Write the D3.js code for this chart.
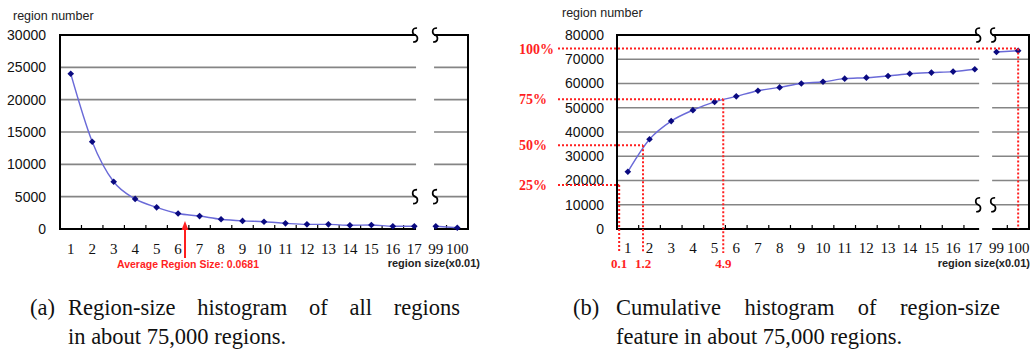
<!DOCTYPE html>
<html>
<head>
<meta charset="utf-8">
<script src="https://cdn.jsdelivr.net/npm/d3@7"></script>
<style>
  body { margin: 0; background: #fff; }
  svg { display: block; }
</style>
</head>
<body>
<script>
// region size categories (x0.01), the axis is broken between 17 and 99
const categories = ["1","2","3","4","5","6","7","8","9","10","11","12","13","14","15","16","17","99","100"];
// (a) number of regions per size
const regionCounts = [24000,13500,7300,4650,3350,2400,2000,1500,1250,1130,880,720,720,570,620,430,420,420,200];
// (b) cumulative number of regions
const cumulativeCounts = [23600,37000,44500,49000,52400,54700,57000,58400,60000,60700,62000,62400,63100,64000,64500,64900,65900,73000,73500];

const countTicks = [0,5000,10000,15000,20000,25000,30000];
const cumulativeTicks = [0,10000,20000,30000,40000,50000,60000,70000,80000];

// percentage markers on (b)
const percentLabels = ["100%","75%","50%","25%"];
const percentCounts = [74400,53500,34500,18100];
const percentSizes = [100,4.9,1.2,0.1];

const averageSizeText = "Average Region Size: 0.0681";
const averageArrowAt = 5.82; // where the arrow sits on the size axis in the original

const captionA = ["(a)", "Region-size histogram of all regions", "in about 75,000 regions."];
const captionB = ["(b)", "Cumulative histogram of region-size", "feature in about 75,000 regions."];

const width = 1035, height = 357;
const sans = "'Liberation Sans', Arial, sans-serif";
const serif = "'Liberation Serif', 'Times New Roman', serif";
const red = "#ff1f1f";

const svg = d3.select("body").append("svg")
    .attr("width", width)
    .attr("height", height);

function drawChart(opt){
    const g = svg.append("g");
    const x = d3.scaleBand().domain(categories).range([opt.left, opt.right]);
    const xu = d3.scaleLinear().domain([0, categories.length]).range([opt.left, opt.right]);
    const y = d3.scaleLinear().domain([0, opt.yMax]).range([opt.bottom, opt.top]);
    const bw = x.bandwidth();

    const breakX = xu(17);
    const gap = [breakX - opt.gap / 2, breakX + opt.gap / 2];
    const spans = [[opt.left, gap[0]], [gap[1], opt.right]];

    // grid lines
    opt.ticks.filter(t => t > 0 && t < opt.yMax).forEach(t => {
        spans.forEach(s => {
            g.append("line")
                .attr("x1", s[0]).attr("x2", s[1])
                .attr("y1", y(t)).attr("y2", y(t))
                .attr("stroke", "#858585").attr("stroke-width", 1.6);
        });
    });

    // frame: top and bottom in two pieces, left and right sides
    [opt.yMax, 0].forEach(t => {
        spans.forEach(s => {
            g.append("line")
                .attr("x1", s[0]).attr("x2", s[1])
                .attr("y1", y(t)).attr("y2", y(t))
                .attr("stroke", "#000").attr("stroke-width", 2);
        });
    });
    [opt.left, opt.right].forEach(px => {
        g.append("line")
            .attr("x1", px).attr("x2", px)
            .attr("y1", y(opt.yMax) - 1).attr("y2", y(0) + 1)
            .attr("stroke", "#000").attr("stroke-width", 2);
    });

    // small ticks between categories
    d3.range(1, categories.length).filter(i => i !== 17).forEach(i => {
        g.append("line")
            .attr("x1", xu(i)).attr("x2", xu(i))
            .attr("y1", y(0)).attr("y2", y(0) - 4)
            .attr("stroke", "#000").attr("stroke-width", 1.2);
    });

    // break marks (S-shaped squiggles)
    const squiggle = (cx, cy) =>
        `M${cx + 2},${cy - 7} C${cx - 4},${cy - 7} ${cx - 3},${cy - 1} ${cx},${cy} ` +
        `C${cx + 3},${cy + 1} ${cx + 4},${cy + 7} ${cx - 2},${cy + 7}`;
    [opt.yMax, opt.breakAt].forEach(t => {
        [gap[0] - 1, gap[1] + 1].forEach(px => {
            g.append("path")
                .attr("d", squiggle(px, y(t)))
                .attr("fill", "none")
                .attr("stroke", "#000").attr("stroke-width", 1.7);
        });
    });

    // y axis labels
    const ya = g.append("g")
        .attr("transform", `translate(${opt.left},0)`)
        .call(d3.axisLeft(y).tickValues(opt.ticks).tickFormat(d3.format("d"))
            .tickSize(0).tickPadding(opt.left - opt.labelRight));
    ya.select(".domain").remove();
    ya.selectAll("text")
        .attr("font-family", sans).attr("font-size", 14).attr("fill", "#111");

    // x axis labels
    const xa = g.append("g")
        .attr("transform", `translate(0,${opt.labelY})`)
        .call(d3.axisBottom(x).tickSize(0));
    xa.select(".domain").remove();
    xa.selectAll("text")
        .attr("y", 0).attr("dy", null)
        .attr("font-family", serif).attr("font-size", 15).attr("fill", "#111");

    // titles
    g.append("text")
        .attr("x", opt.titleX).attr("y", opt.titleY)
        .attr("font-family", sans).attr("font-size", 12.5).attr("fill", "#222")
        .text("region number");
    g.append("text")
        .attr("x", opt.right + opt.sizeLabelShift).attr("y", 267)
        .attr("text-anchor", "end")
        .attr("font-family", sans).attr("font-size", 11).attr("font-weight", "bold").attr("fill", "#222")
        .text("region size(x0.01)");

    // data line and markers
    const pts = opt.values.map((v, i) => ({c: categories[i], v: v}));
    const line = d3.line()
        .x(d => x(d.c) + bw / 2)
        .y(d => y(d.v))
        .curve(d3.curveMonotoneX);
    [pts.slice(0, 17), pts.slice(17)].forEach(seg => {
        g.append("path")
            .datum(seg)
            .attr("d", line)
            .attr("fill", "none")
            .attr("stroke", "#6a6ad8").attr("stroke-width", 1.4);
    });
    g.selectAll(".dot")
        .data(pts)
        .enter().append("path")
        .attr("class", "dot")
        .attr("transform", d => `translate(${x(d.c) + bw / 2},${y(d.v)}) rotate(45)`)
        .attr("d", d3.symbol(d3.symbolSquare, 22))
        .attr("fill", "#0a0a80");

    return {g, x, xu, y};
}

// (a)
const a = drawChart({
    left: 60, right: 468, top: 35, bottom: 229, gap: 18,
    yMax: 30000, ticks: countTicks, breakAt: 5000, values: regionCounts,
    labelRight: 46, labelY: 254, titleX: 13, titleY: 20, sizeLabelShift: 12
});

const ax = a.xu(averageArrowAt);
a.g.append("line")
    .attr("x1", ax).attr("x2", ax)
    .attr("y1", 229).attr("y2", 258)
    .attr("stroke", red).attr("stroke-width", 2);
a.g.append("path")
    .attr("d", `M${ax},221 L${ax - 3.5},230 L${ax + 3.5},230 Z`)
    .attr("fill", red);
a.g.append("text")
    .attr("x", ax + 3).attr("y", 268)
    .attr("text-anchor", "middle")
    .attr("font-family", sans).attr("font-size", 10.5).attr("font-weight", "bold").attr("fill", red)
    .text(averageSizeText);

// (b)
const b = drawChart({
    left: 617, right: 1029, top: 35, bottom: 229, gap: 13,
    yMax: 80000, ticks: cumulativeTicks, breakAt: 10000, values: cumulativeCounts,
    labelRight: 604, labelY: 253, titleX: 562, titleY: 17, sizeLabelShift: 1
});

const sizeUnit = s => s <= 17 ? s : categories.indexOf(String(s)) + 0.5;
percentLabels.forEach((lab, i) => {
    const py = b.y(percentCounts[i]);
    const px = b.xu(sizeUnit(percentSizes[i]));
    b.g.append("line")
        .attr("x1", 558).attr("x2", px)
        .attr("y1", py).attr("y2", py)
        .attr("stroke", red).attr("stroke-width", 2).attr("stroke-dasharray", "2,2");
    b.g.append("line")
        .attr("x1", px).attr("x2", px)
        .attr("y1", py).attr("y2", percentSizes[i] > 17 ? b.y(0) : 253)
        .attr("stroke", red).attr("stroke-width", 2).attr("stroke-dasharray", "2,2");
    b.g.append("text")
        .attr("x", 519).attr("y", py + 5)
        .attr("font-family", serif).attr("font-size", 14).attr("font-weight", "bold").attr("fill", red)
        .text(lab);
    if (percentSizes[i] <= 17) {
        b.g.append("text")
            .attr("x", px).attr("y", 268)
            .attr("text-anchor", "middle")
            .attr("font-family", serif).attr("font-size", 13).attr("font-weight", "bold").attr("fill", red)
            .text(String(percentSizes[i]));
    }
});

// captions, first line justified like the paper
function caption(lines, x0, x1, w1){
    const g = svg.append("g")
        .attr("font-family", serif).attr("font-size", 22.5).attr("fill", "#111");
    g.append("text").attr("x", x0).attr("y", 315).text(lines[0]);
    const t1 = g.append("text").attr("x", x1).attr("y", 315).text(lines[1]);
    const gaps = lines[1].split(" ").length - 1;
    const extra = Math.max(0, (w1 - t1.node().getComputedTextLength()) / gaps);
    t1.attr("word-spacing", extra);
    g.append("text").attr("x", x1).attr("y", 344).text(lines[2]);
}
caption(captionA, 30, 68, 392);
caption(captionB, 573, 616, 384);
</script>
</body>
</html>
